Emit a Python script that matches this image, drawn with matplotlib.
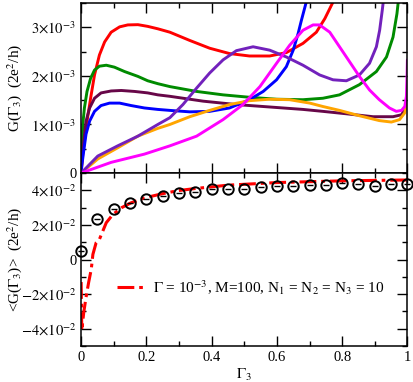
import matplotlib
matplotlib.use("Agg")
import matplotlib.pyplot as plt
from matplotlib.ticker import MultipleLocator, FuncFormatter

plt.rcParams['font.family'] = ['Liberation Serif', 'DejaVu Serif']
plt.rcParams['mathtext.fontset'] = 'stix'

# --- ust panel: G(Gamma_3) egrileri (birim 1e-3 * 2e^2/h) ---
g_kirmizi = [0, 0.005, 0.010, 0.018, 0.029, 0.041, 0.056, 0.072, 0.092, 0.118, 0.143, 0.174,
             0.204, 0.235, 0.272, 0.333, 0.394, 0.455, 0.516, 0.578, 0.629, 0.680, 0.721,
             0.747, 0.772]
y_kirmizi = [0, 0.39, 0.66, 1.07, 1.54, 2.02, 2.43, 2.70, 2.90, 3.01, 3.05, 3.055,
             3.02, 2.97, 2.90, 2.73, 2.57, 2.46, 2.41, 2.41, 2.48, 2.67, 2.90,
             3.18, 3.52]

g_yesil = [0, 0.002, 0.005, 0.010, 0.018, 0.029, 0.041, 0.056, 0.077, 0.102, 0.133, 0.174,
           0.204, 0.235, 0.272, 0.354, 0.435, 0.516, 0.599, 0.680, 0.741, 0.792, 0.853,
           0.905, 0.936, 0.956, 0.968, 0.972]
y_yesil = [0, 0.52, 1.0, 1.34, 1.68, 1.95, 2.12, 2.20, 2.22, 2.18, 2.09, 1.99,
           1.90, 1.84, 1.78, 1.68, 1.61, 1.56, 1.52, 1.51, 1.54, 1.61, 1.82,
           2.09, 2.39, 2.80, 3.28, 3.52]

g_bordo = [0, 0.002, 0.008, 0.015, 0.026, 0.041, 0.061, 0.092, 0.123, 0.164, 0.204, 0.235,
           0.272, 0.374, 0.476, 0.578, 0.680, 0.741, 0.813, 0.895, 0.956, 0.982, 0.995, 1.0]
y_bordo = [0, 0.25, 0.66, 1.07, 1.34, 1.54, 1.65, 1.69, 1.70, 1.68, 1.65, 1.61,
           1.58, 1.48, 1.41, 1.36, 1.31, 1.27, 1.22, 1.16, 1.16, 1.20, 1.34, 1.47]

g_mavi = [0, 0.002, 0.008, 0.015, 0.026, 0.041, 0.061, 0.087, 0.118, 0.153, 0.194, 0.235,
          0.272, 0.333, 0.394, 0.455, 0.516, 0.558, 0.599, 0.629, 0.650, 0.665, 0.675, 0.69]
y_mavi = [0, 0.15, 0.46, 0.80, 1.07, 1.27, 1.39, 1.44, 1.44, 1.39, 1.34, 1.31,
          1.29, 1.26, 1.27, 1.34, 1.51, 1.68, 1.92, 2.19, 2.53, 2.87, 3.14, 3.52]

g_mor = [0, 0.051, 0.112, 0.174, 0.235, 0.272, 0.312, 0.354, 0.394, 0.435, 0.476, 0.527,
         0.578, 0.629, 0.680, 0.731, 0.772, 0.813, 0.853, 0.884, 0.905, 0.915, 0.923, 0.926]
y_mor = [0, 0.35, 0.56, 0.76, 1.0, 1.14, 1.41, 1.75, 2.06, 2.33, 2.52, 2.60,
         2.53, 2.39, 2.22, 2.02, 1.92, 1.90, 2.02, 2.26, 2.60, 2.94, 3.35, 3.52]

g_turuncu = [0, 0.051, 0.112, 0.174, 0.235, 0.272, 0.333, 0.394, 0.455, 0.516, 0.578, 0.639,
             0.701, 0.741, 0.792, 0.853, 0.914, 0.951, 0.976, 0.992, 1.0]
y_turuncu = [0, 0.29, 0.52, 0.76, 0.92, 1.0, 1.16, 1.29, 1.41, 1.49, 1.52, 1.51,
             1.44, 1.37, 1.29, 1.18, 1.08, 1.05, 1.10, 1.24, 1.60]

g_pembe = [0, 0.092, 0.194, 0.272, 0.354, 0.435, 0.496, 0.548, 0.599, 0.639, 0.680, 0.711,
           0.731, 0.762, 0.792, 0.823, 0.853, 0.884, 0.914, 0.945, 0.966, 0.982, 0.992,
           0.997, 0.999, 1.0]
y_pembe = [0, 0.22, 0.39, 0.56, 0.76, 1.10, 1.41, 1.78, 2.26, 2.63, 2.94, 3.05,
           3.05, 2.90, 2.60, 2.29, 1.99, 1.71, 1.51, 1.34, 1.27, 1.29, 1.37,
           1.58, 2.0, 2.33]

# --- alt panel: ortalama <G(Gamma_3)> (birim 1e-2) ---
g_daire = [0, 0.05, 0.1, 0.15, 0.2, 0.25, 0.3, 0.35, 0.4, 0.45, 0.5, 0.55, 0.6, 0.65, 0.7,
           0.75, 0.8, 0.85, 0.9, 0.95, 1.0]
y_daire = [0.52, 2.32, 2.94, 3.25, 3.48, 3.65, 3.87, 3.92, 4.06, 4.10, 4.08, 4.21, 4.23, 4.25,
           4.30, 4.29, 4.40, 4.39, 4.25, 4.37, 4.37]

g_kesik = [0, 0.002, 0.008, 0.015, 0.023, 0.031, 0.036, 0.046, 0.056, 0.077, 0.097, 0.123,
           0.153, 0.194, 0.245, 0.296, 0.347, 0.45, 0.6, 0.8, 1.0]
y_kesik = [-1.3, -4.1, -3.05, -2.18, -1.32, -0.56, 0.3, 0.98, 1.17, 2.13, 2.6, 2.99,
           3.28, 3.56, 3.79, 3.98, 4.1, 4.3, 4.45, 4.55, 4.6]

fig = plt.figure(figsize=(4.14, 3.82), dpi=100)
ax1 = fig.add_axes([0.196, 0.547, 0.788, 0.445])
ax2 = fig.add_axes([0.196, 0.094, 0.788, 0.453])

egriler = [(g_kirmizi, y_kirmizi, '#ff0000'), (g_yesil, y_yesil, '#008b00'),
           (g_bordo, y_bordo, '#670748'), (g_mavi, y_mavi, '#0000ff'),
           (g_turuncu, y_turuncu, '#ffa500'), (g_mor, y_mor, '#7221bc'),
           (g_pembe, y_pembe, '#ff00ff')]
for gx, gy, renk in egriler:
    ax1.plot(gx, [v * 1e-3 for v in gy], color=renk, lw=2.1,
             solid_joinstyle='round', solid_capstyle='round')

ax2.plot(g_kesik, [v * 1e-2 for v in y_kesik], color='#ff0000', lw=2.2,
         dashes=(5.5, 1.6, 1.2, 1.6),
         label=r'$\Gamma$ = 10$^{-3}$, M=100, N$_1$ = N$_2$ = N$_3$ = 10')
ax2.plot(g_daire, [v * 1e-2 for v in y_daire], ls='none', marker='o', ms=7.5,
         mfc='none', mec='black', mew=1.4, clip_on=False)
ax2.plot(g_daire, [v * 1e-2 for v in y_daire], ls='none', marker='_', ms=4,
         mec='black', mew=1.0, clip_on=False)


def ust_etiket(v, pos):
    if abs(v) < 1e-12:
        return '0'
    return r'$%d{\times}10^{-3}$' % round(v / 1e-3)


def alt_etiket(v, pos):
    if abs(v) < 1e-12:
        return '0'
    return r'$%d{\times}10^{-2}$' % round(v / 1e-2)


for ax in (ax1, ax2):
    ax.set_xlim(0, 1)
    ax.xaxis.set_major_locator(MultipleLocator(0.2))
    ax.xaxis.set_minor_locator(MultipleLocator(0.1))
    ax.tick_params(which='both', direction='in', top=True, right=True, labelsize=10.5, width=1.0)
    ax.tick_params(which='major', length=7)
    ax.tick_params(which='minor', length=3.5)
    for sp in ax.spines.values():
        sp.set_linewidth(1.1)

ax1.set_ylim(0, 3.5e-3)
ax1.yaxis.set_major_locator(MultipleLocator(1e-3))
ax1.yaxis.set_minor_locator(MultipleLocator(0.5e-3))
ax1.yaxis.set_major_formatter(FuncFormatter(ust_etiket))
ax1.tick_params(labelbottom=False)
ax1.set_ylabel(r'G($\Gamma_3$)  (2e$^2$/h)', fontsize=11)
ax1.yaxis.set_label_coords(-0.175, 0.5)

ax2.set_ylim(-0.05, 0.05)
ax2.yaxis.set_major_locator(MultipleLocator(0.02))
ax2.yaxis.set_minor_locator(MultipleLocator(0.01))
ax2.yaxis.set_major_formatter(FuncFormatter(alt_etiket))
ax2.set_xticks([0, 0.2, 0.4, 0.6, 0.8, 1.0])
ax2.set_xticklabels(['0', '0.2', '0.4', '0.6', '0.8', '1'])
ax2.set_ylabel(r'<G($\Gamma_3$)>  (2e$^2$/h)', fontsize=11)
ax2.yaxis.set_label_coords(-0.175, 0.5)
ax2.set_xlabel(r'$\Gamma_3$', fontsize=11, labelpad=2)

ax2.legend(loc='center left', bbox_to_anchor=(0.09, 0.34), frameon=False, fontsize=11,
           handlelength=2.0, handletextpad=0.4, borderaxespad=0)

fig.savefig('out.png', dpi=100)
